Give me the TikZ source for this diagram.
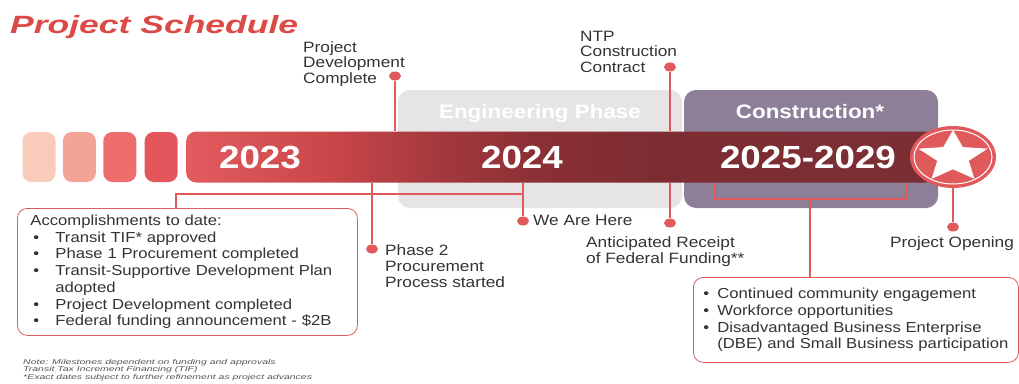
\documentclass[tikz,border=0pt]{standalone}
\usepackage{fontspec}
\setmainfont[FakeStretch=1.15]{Liberation Sans}
\newfontfamily\titlefont[FakeStretch=1.42]{Liberation Sans}
\newfontfamily\notefont[FakeStretch=1.5]{Liberation Sans}
\usetikzlibrary{shapes.geometric, positioning}

\definecolor{tlred}{HTML}{E05A5B}
\definecolor{titlered}{HTML}{DC4A47}
\definecolor{txtgray}{HTML}{333333}
\definecolor{notegray}{HTML}{555555}
\definecolor{pillA}{HTML}{F9CBBB}
\definecolor{pillB}{HTML}{F4A497}
\definecolor{pillC}{HTML}{EE6E6E}
\definecolor{pillD}{HTML}{E4565B}
\definecolor{engray}{HTML}{E6E4E4}
\definecolor{conpurple}{HTML}{8D7F98}
\definecolor{barA}{HTML}{E25C5F}
\definecolor{barB}{HTML}{C94649}
\definecolor{barC}{HTML}{A63A3F}
\definecolor{barD}{HTML}{8C3035}
\definecolor{barE}{HTML}{7D2D32}
\definecolor{barF}{HTML}{7A2E33}
\pgfdeclarehorizontalshading{barshade}{100bp}{color(0bp)=(barA); color(25bp)=(barA);
  color(34.7bp)=(barB); color(41.3bp)=(barC); color(48bp)=(barD); color(56bp)=(barE);
  color(75bp)=(barF); color(100bp)=(barF)}

\newcommand{\accitem}{\makebox[25pt][l]{\hspace{3pt}\textbullet}}
\newcommand{\oppitem}{\makebox[14pt][l]{\textbullet}}

\begin{document}
\begin{tikzpicture}[x=1pt,y=-1pt,
  every node/.style={inner sep=0pt, text=txtgray},
  pill/.style={rounded corners=9pt, minimum width=33pt, minimum height=50pt},
  phase box/.style={rounded corners=12pt, minimum height=118pt},
  phase text/.style={anchor=base, text=white, font=\bfseries\fontsize{19.5}{19.5}\selectfont},
  year/.style={anchor=base, text=white, font=\bfseries\fontsize{32}{32}\selectfont},
  dot/.style={ellipse, fill=tlred, minimum width=12pt, minimum height=9pt},
  mstone/.style={anchor=north west, align=left, font=\fontsize{15}{15.8}\selectfont},
  link/.style={draw=tlred, line width=2.2pt},
  list box/.style={draw=tlred, line width=0.8pt, rounded corners=10pt, fill=white,
    align=left, font=\fontsize{14.5}{16.7}\selectfont}]
  \useasboundingbox (0,0) rectangle (1019,383);

  % phases
  \node[] (eng) [phase box, fill=engray, minimum width=284pt] at (540,149) {};
  \node[] (con) [phase box, fill=conpurple, minimum width=254pt] at (811,149) {};
  \node[] (engt) [phase text] at (540,118) {Engineering Phase};
  \node[] (cont) [phase text] at (810,118) {Construction*};

  % title
  \node[] (title) [anchor=base west, text=titlered,
    font=\titlefont\bfseries\itshape\fontsize{25}{25}\selectfont] at (10,33) {Project Schedule};

  % bar
  \node[] (p1) [pill, fill=pillA] at (39,157) {};
  \node[] (p2) [pill, fill=pillB, right=7pt of p1] {};
  \node[] (p3) [pill, fill=pillC, right=7pt of p2] {};
  \node[] (p4) [pill, fill=pillD, right=8pt of p3] {};
  \node[] (bar) [rounded corners=10pt, shade, shading=barshade, minimum width=750pt,
    minimum height=51pt, right=8pt of p4] {};
  \node[] (y23) [year] at (260,168) {2023};
  \node[] (y24) [year] at (522,168) {2024};
  \node[] (y25) [year] at (808,168) {2025-2029};

  % goal
  \node[] (goal) [ellipse, fill=tlred, minimum width=86pt, minimum height=62pt] at (953,157) {};
  \draw[white, line width=1pt] (goal.center) ellipse (39 and 27);
  \begin{scope}[shift={(goal.center)}, xscale=1.35]
    \node[] (goalstar) [star, star points=5, star point ratio=2.2, fill=white,
      minimum size=54pt, transform shape] {};
  \end{scope}

  % above
  \node[] (pdc) [dot] at (395,76) {};
  \node[] (ntp) [dot] at (670,67) {};
  \node[] (pdct) [mstone] at (303,41) {Project\\Development\\Complete};
  \node[] (ntpt) [mstone] at (580,30.5) {NTP\\Construction\\Contract};

  % below
  \node[] (ph2) [dot] at (372,249) {};
  \node[] (here) [dot] at (523,221) {};
  \node[] (ant) [dot] at (670,223) {};
  \node[] (open) [dot] at (953,227) {};
  \node[] (ph2t) [mstone] at (385,244.5) {Phase 2\\Procurement\\Process started};
  \node[] (heret) [mstone, anchor=base west] at (533,225) {We Are Here};
  \node[] (antt) [mstone] at (586,236.5) {Anticipated Receipt\\of Federal Funding**};
  \node[] (opent) [mstone, anchor=base west] at (890,247) {Project Opening};

  % boxes
  \node[] (acc) [list box, anchor=north west, inner xsep=13pt, text width=314pt,
    minimum height=127pt] at (17,208) {Accomplishments to date:\\
    \accitem Transit TIF* approved\\
    \accitem Phase 1 Procurement completed\\
    \accitem Transit-Supportive Development Plan\\
    \hspace*{25pt}adopted\\
    \accitem Project Development completed\\
    \accitem Federal funding announcement - \$2B};
  \node[] (opp) [list box, anchor=north west, minimum width=325pt,
    minimum height=85pt] at (693,277) {\oppitem Continued community engagement\\
    \oppitem Workforce opportunities\\
    \oppitem Disadvantaged Business Enterprise\\
    \hspace*{14pt}(DBE) and Small Business participation};

  \node[] (notes) [anchor=north west, align=left, text=notegray,
    font=\notefont\itshape\fontsize{7}{7.6}\selectfont] at (23,359)
    {Note: Milestones dependent on funding and approvals\\
    Transit Tax Increment Financing (TIF)\\
    *Exact dates subject to further refinement as project advances};

  % links
  \path[link] (pdc) edge (pdc |- bar.north)
    (ntp) edge (ntp |- bar.north)
    (ant |- bar.south) edge (ant)
    (here |- bar.south) edge (here)
    (ph2 |- bar.south) edge (ph2)
    (goal) edge (open);
  \coordinate (accj) at (176,194);
  \draw[link] (accj |- acc.north) -- (accj) -- (accj -| here);
  \coordinate (conl) at (715,199);
  \coordinate (conr) at (907,199);
  \coordinate (conm) at (810,199);
  \draw[link] (conl |- bar.south) -- (conl) -- (conr) -- (conr |- bar.south);
  \draw[link] (conm) -- (conm |- opp.north);
\end{tikzpicture}
\end{document}
